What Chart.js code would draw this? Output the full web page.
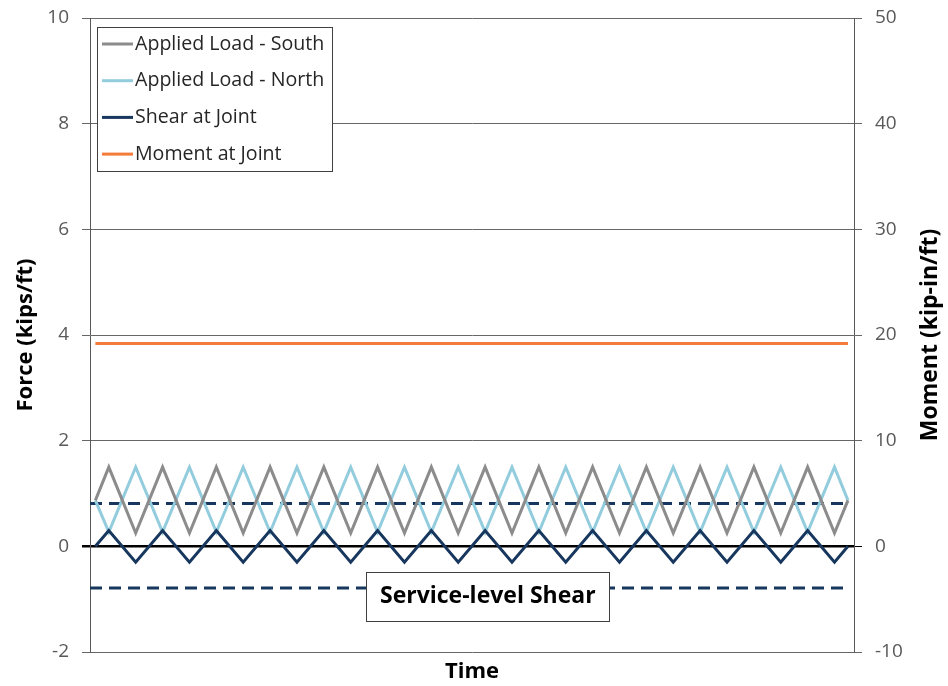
<!DOCTYPE html>
<html lang="en">
<head>
<meta charset="UTF-8">
<title>Force and Moment at Joint</title>
<script src="https://cdn.jsdelivr.net/npm/chart.js"></script>
<style>
  html, body { margin: 0; padding: 0; background: #fff; }
  #wrap { width: 948px; height: 686px; }
</style>
</head>
<body>
<div id="wrap"><canvas id="chart"></canvas></div>
<script>
// time steps (quarter-cycles)
const timeSteps = [0, 1, 3, 5, 7, 9, 11, 13, 15, 17, 19, 21, 23, 25, 27, 29,
  31, 33, 35, 37, 39, 41, 43, 45, 47, 49, 51, 53, 55, 56];

const loadSouth = [0.87, 1.5, 0.25, 1.5, 0.25, 1.5, 0.25, 1.5, 0.25, 1.5, 0.25, 1.5, 0.25, 1.5, 0.25,
  1.5, 0.25, 1.5, 0.25, 1.5, 0.25, 1.5, 0.25, 1.5, 0.25, 1.5, 0.25, 1.5, 0.25, 0.87];
const loadNorth = [0.87, 0.27, 1.5, 0.27, 1.5, 0.27, 1.5, 0.27, 1.5, 0.27, 1.5, 0.27, 1.5, 0.27, 1.5,
  0.27, 1.5, 0.27, 1.5, 0.27, 1.5, 0.27, 1.5, 0.27, 1.5, 0.27, 1.5, 0.27, 1.5, 0.87];
const shearJoint = [0, 0.3, -0.3, 0.3, -0.3, 0.3, -0.3, 0.3, -0.3, 0.3, -0.3, 0.3, -0.3, 0.3, -0.3,
  0.3, -0.3, 0.3, -0.3, 0.3, -0.3, 0.3, -0.3, 0.3, -0.3, 0.3, -0.3, 0.3, -0.3, 0];

const momentTimes = [0, 56];
const momentJoint = [19.2, 19.2];

const serviceTimes = [-0.4, 56];
const serviceUpper = [0.81, 0.81];
const serviceLower = [-0.79, -0.79];

const forceTicks = { min: -2, max: 10, step: 2 };
const momentTicks = { min: -10, max: 50, step: 10 };

const FONT = '"Open Sans"';

function pts(xs, ys) { return xs.map((x, i) => ({ x: x, y: ys[i] })); }

const datasets = [
  { label: 'Shear at Joint', data: pts(timeSteps, shearJoint), borderColor: '#17375e', borderWidth: 3, yAxisID: 'y', legend: true, legendOrder: 2 },
  { label: 'Applied Load - South', data: pts(timeSteps, loadSouth), borderColor: '#8c8c8c', borderWidth: 3, yAxisID: 'y', legend: true, legendOrder: 0 },
  { label: 'Applied Load - North', data: pts(timeSteps, loadNorth), borderColor: '#93cddd', borderWidth: 3, yAxisID: 'y', legend: true, legendOrder: 1 },
  { label: 'Moment at Joint', data: pts(momentTimes, momentJoint), borderColor: '#f47b3a', borderWidth: 3, yAxisID: 'y1', legend: true, legendOrder: 3 },
  { label: 'Service upper', data: pts(serviceTimes, serviceUpper), borderColor: '#17375e', borderWidth: 3, borderDash: [12, 7], yAxisID: 'y' },
  { label: 'Service lower', data: pts(serviceTimes, serviceLower), borderColor: '#17375e', borderWidth: 3, borderDash: [12, 7], yAxisID: 'y' }
];

const gridColor = c => (c.tick && c.tick.value === 0) ? '#000' : '#666';
const gridWidth = c => (c.tick && c.tick.value === 0) ? 2.5 : 1;

const overlays = {
  id: 'overlays',
  afterDraw(chart) {
    const { ctx, chartArea, scales } = chart;
    ctx.save();

    // legend box
    const lx = chartArea.left + 7, ly = chartArea.top + 9, lw = 235, lh = 144;
    ctx.fillStyle = '#fff';
    ctx.fillRect(lx, ly, lw, lh);
    ctx.strokeStyle = '#404040';
    ctx.lineWidth = 1;
    ctx.strokeRect(lx + 0.5, ly + 0.5, lw, lh);
    const items = chart.data.datasets.filter(d => d.legend).sort((a, b) => a.legendOrder - b.legendOrder);
    ctx.font = '19.6px ' + FONT;
    ctx.textBaseline = 'middle';
    ctx.textAlign = 'left';
    items.forEach((d, i) => {
      const cy = ly + 17 + i * 36.7;
      ctx.strokeStyle = d.borderColor;
      ctx.lineWidth = 3;
      ctx.beginPath();
      ctx.moveTo(lx + 5, cy);
      ctx.lineTo(lx + 36, cy);
      ctx.stroke();
      ctx.fillStyle = '#262626';
      ctx.fillText(d.label, lx + 38, cy);
    });

    // service-level label
    const bx = scales.x.getPixelForValue(29.2), by = scales.y.getPixelForValue(-0.95);
    const bw = 243, bh = 49;
    ctx.fillStyle = '#fff';
    ctx.fillRect(bx - bw / 2, by - bh / 2, bw, bh);
    ctx.strokeStyle = '#404040';
    ctx.lineWidth = 1;
    ctx.strokeRect(Math.round(bx - bw / 2) + 0.5, Math.round(by - bh / 2) + 0.5, bw, bh);
    ctx.fillStyle = '#000';
    ctx.font = 'bold 23px ' + FONT;
    ctx.textAlign = 'center';
    ctx.fillText('Service-level Shear', bx, by);

    // right axis title, reading bottom to top
    ctx.translate(930, (chartArea.top + chartArea.bottom) / 2);
    ctx.rotate(-Math.PI / 2);
    ctx.font = 'bold 23px ' + FONT;
    ctx.fillText('Moment (kip-in/ft)', 0, 0);
    ctx.restore();
  }
};

new Chart(document.getElementById('chart'), {
  type: 'line',
  data: { datasets: datasets },
  options: {
    responsive: true,
    maintainAspectRatio: false,
    animation: false,
    layout: { padding: { top: 18, left: 0, right: 0, bottom: 0 } },
    elements: { point: { radius: 0 }, line: { tension: 0, fill: false, borderCapStyle: 'butt' } },
    plugins: { legend: { display: false }, tooltip: { enabled: false } },
    scales: {
      x: {
        type: 'linear',
        min: -0.4,
        max: 56.45,
        ticks: { display: false },
        grid: { display: false },
        border: { display: false },
        title: { display: true, text: 'Time', color: '#000', font: { family: FONT, size: 22, weight: 'bold' }, padding: { top: 0, bottom: 1 } },
        afterFit: s => { s.height = 34; }
      },
      y: {
        position: 'left',
        min: forceTicks.min,
        max: forceTicks.max,
        ticks: { stepSize: forceTicks.step, color: '#595959', font: { family: FONT, size: 19 }, padding: 13 },
        grid: { color: gridColor, lineWidth: gridWidth, tickLength: 8 },
        border: { display: true, color: '#595959', width: 1 },
        title: { display: true, text: 'Force (kips/ft)', color: '#000', font: { family: FONT, size: 22, weight: 'bold' }, padding: { top: 13, bottom: 0 } },
        afterFit: s => { s.width = 90; s.paddingTop = 0; s.paddingBottom = 0; }
      },
      y1: {
        position: 'right',
        min: momentTicks.min,
        max: momentTicks.max,
        ticks: { stepSize: momentTicks.step, color: '#595959', font: { family: FONT, size: 19 }, padding: 13 },
        grid: { drawOnChartArea: false, color: gridColor, lineWidth: 1, tickLength: 8 },
        border: { display: true, color: '#595959', width: 1 },
        afterFit: s => { s.width = 94; s.paddingTop = 0; s.paddingBottom = 0; }
      }
    }
  },
  plugins: [overlays]
});
</script>
</body>
</html>
